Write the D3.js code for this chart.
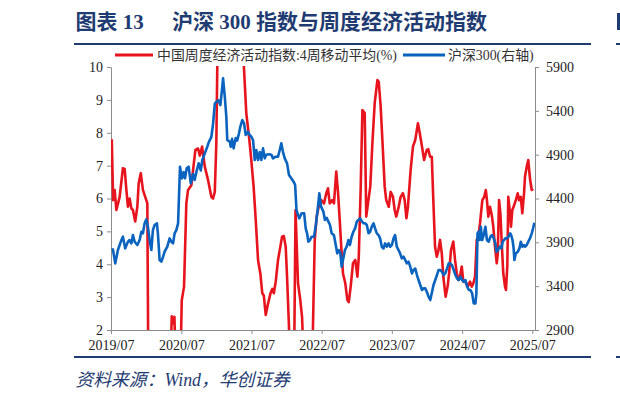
<!DOCTYPE html>
<html>
<head>
<meta charset="utf-8">
<script src="https://d3js.org/d3.v7.min.js"></script>
<style>
  body { margin: 0; background: #fff; }
  svg text { font-family: "Liberation Serif", "Noto Sans CJK SC", serif; }
</style>
</head>
<body>
<svg id="chart"></svg>
<script>
// weekly economic activity index, 4-week moving average (%), left axis
var activityIndex = [
  ["2019-07-05",7.8],["2019-07-12",5.95],["2019-07-20",6.26],["2019-07-29",5.65],["2019-08-15",6.05],
  ["2019-09-01",6.92],["2019-09-10",6.9],["2019-09-19",6.26],["2019-09-27",5.75],["2019-10-06",6.0],
  ["2019-10-15",5.7],["2019-10-23",5.65],["2019-11-04",5.3],["2019-11-15",5.75],["2019-11-22",6.46],
  ["2019-12-03",6.77],["2019-12-14",6.26],["2019-12-26",6.05],["2020-01-06",5.85],["2020-01-14",-2.0],
  ["2020-02-10",-6.5],["2020-03-10",-4.0],["2020-04-10",-1.0],["2020-05-05",0.8],["2020-05-12",2.42],
  ["2020-05-20",2.2],["2020-05-26",2.4],["2020-06-02",0.8],["2020-06-25",0.5],["2020-07-03",2.9],
  ["2020-07-15",3.32],["2020-07-27",5.86],["2020-08-05",6.26],["2020-08-22",6.4],["2020-09-12",7.48],
  ["2020-09-26",7.52],["2020-10-05",7.3],["2020-10-17",7.58],["2020-10-31",6.97],["2020-11-17",6.56],
  ["2020-12-04",6.05],["2020-12-13",6.0],["2020-12-22",6.2],["2020-12-30",7.68],["2021-01-05",10.5],
  ["2021-01-25",13.5],["2021-02-20",15.5],["2021-03-20",16.0],["2021-04-20",14.0],["2021-05-12",11.2],
  ["2021-06-04",8.59],["2021-06-18",7.88],["2021-06-30",7.17],["2021-07-12",6.36],["2021-07-23",5.35],
  ["2021-08-04",4.13],["2021-08-16",3.72],["2021-08-26",3.12],["2021-09-03",3.05],["2021-09-13",2.46],
  ["2021-09-25",2.8],["2021-10-07",3.1],["2021-10-17",3.25],["2021-10-25",3.12],["2021-11-04",3.47],
  ["2021-11-16",4.13],["2021-11-25",4.43],["2021-12-07",4.84],["2021-12-16",4.86],["2021-12-26",4.53],
  ["2022-01-02",3.62],["2022-01-12",2.1],["2022-01-20",-1.0],["2022-02-07",0.5],["2022-02-15",5.65],
  ["2022-02-28",3.43],["2022-03-12",2.9],["2022-03-21",2.4],["2022-03-30",1.0],["2022-04-20",-1.5],
  ["2022-05-13",1.0],["2022-05-26",4.74],["2022-06-05",5.45],["2022-06-21",5.9],["2022-06-29",5.95],
  ["2022-07-13",5.85],["2022-07-25",6.16],["2022-08-03",6.31],["2022-08-12",5.85],["2022-08-24",5.95],
  ["2022-09-03",5.85],["2022-09-15",6.82],["2022-09-24",6.2],["2022-10-03",5.35],["2022-10-11",4.53],
  ["2022-10-20",3.72],["2022-11-01",3.42],["2022-11-12",2.91],["2022-11-19",2.85],["2022-11-29",3.32],
  ["2022-12-11",4.03],["2022-12-23",4.13],["2023-01-03",3.62],["2023-01-10",4.2],["2023-01-20",6.3],
  ["2023-01-29",8.69],["2023-02-10",8.6],["2023-02-18",5.45],["2023-02-27",5.85],["2023-03-11",6.36],
  ["2023-03-22",7.68],["2023-04-03",8.9],["2023-04-17",9.6],["2023-04-24",9.55],["2023-05-04",8.8],
  ["2023-05-13",7.78],["2023-05-25",6.36],["2023-06-02",5.95],["2023-06-15",5.75],["2023-06-25",6.2],
  ["2023-07-07",6.05],["2023-07-16",5.65],["2023-07-24",5.45],["2023-08-06",5.75],["2023-08-16",6.05],
  ["2023-08-28",6.16],["2023-09-06",5.95],["2023-09-15",5.4],["2023-09-23",5.75],["2023-10-07",6.87],
  ["2023-10-19",7.58],["2023-10-31",7.78],["2023-11-14",8.29],["2023-11-23",8.0],["2023-12-05",7.58],
  ["2023-12-16",7.17],["2023-12-30",7.48],["2024-01-07",7.5],["2024-01-16",7.27],["2024-01-25",7.27],
  ["2024-02-02",5.95],["2024-02-11",4.53],["2024-02-20",4.23],["2024-02-28",4.4],["2024-03-08",4.74],
  ["2024-03-17",4.33],["2024-03-25",3.62],["2024-04-06",3.01],["2024-04-17",3.35],["2024-04-24",3.72],
  ["2024-05-04",4.43],["2024-05-16",4.69],["2024-05-25",4.13],["2024-06-03",3.72],["2024-06-11",3.52],
  ["2024-06-20",3.65],["2024-06-29",3.93],["2024-07-07",3.47],["2024-07-20",3.45],["2024-07-30",3.32],
  ["2024-08-11",3.47],["2024-08-20",3.32],["2024-08-28",3.42],["2024-09-06",3.62],["2024-09-15",4.74],
  ["2024-09-23",4.84],["2024-10-02",5.25],["2024-10-14",5.95],["2024-10-24",6.05],["2024-11-01",6.26],
  ["2024-11-07",5.95],["2024-11-14",5.45],["2024-11-23",5.75],["2024-12-02",5.5],["2024-12-10",5.14],
  ["2024-12-19",4.53],["2024-12-28",4.03],["2025-01-02",4.3],["2025-01-09",5.95],["2025-01-16",5.55],
  ["2025-01-23",4.64],["2025-01-31",3.72],["2025-02-09",3.32],["2025-02-14",3.22],["2025-02-21",3.95],
  ["2025-02-26",6.05],["2025-03-07",5.55],["2025-03-12",5.14],["2025-03-19",5.65],["2025-03-29",5.8],
  ["2025-04-06",5.95],["2025-04-16",6.16],["2025-04-23",5.95],["2025-05-02",6.05],["2025-05-10",5.55],
  ["2025-05-19",6.16],["2025-05-24",6.67],["2025-06-02",6.97],["2025-06-10",7.17],["2025-06-19",6.6],
  ["2025-06-28",6.26],["2025-07-05",6.3]
];

// CSI 300 index, right axis
var csi300 = [
  ["2019-07-05",3812],["2019-07-11",3820],["2019-07-23",3660],["2019-08-06",3812],["2019-08-24",3926],
  ["2019-09-01",3964],["2019-09-13",3831],["2019-09-27",3907],["2019-10-06",3926],["2019-10-15",3888],
  ["2019-10-23",3983],["2019-11-01",3907],["2019-11-15",3869],["2019-11-27",3926],["2019-12-06",4021],
  ["2019-12-14",4002],["2019-12-23",4117],["2020-01-01",4162],["2020-01-09",4080],["2020-01-18",3926],
  ["2020-01-27",3812],["2020-02-04",4040],["2020-02-13",4098],["2020-02-25",4117],["2020-03-01",4002],
  ["2020-03-10",3698],["2020-03-19",3680],["2020-03-28",3736],["2020-04-05",3793],["2020-04-19",3850],
  ["2020-05-01",3945],["2020-05-10",3907],["2020-05-19",3888],["2020-05-27",4002],["2020-06-05",4040],
  ["2020-06-14",4117],["2020-06-24",4763],["2020-07-04",4630],["2020-07-13",4700],["2020-07-20",4630],
  ["2020-07-29",4744],["2020-08-08",4763],["2020-08-19",4573],["2020-08-31",4680],["2020-09-08",4611],
  ["2020-09-17",4700],["2020-09-29",4801],["2020-10-10",4720],["2020-10-18",4839],["2020-10-31",4915],
  ["2020-11-13",4991],["2020-11-22",5048],["2020-12-04",5100],["2020-12-13",5250],["2020-12-22",5480],
  ["2020-12-30",5504],["2021-01-10",5520],["2021-01-20",5466],["2021-01-30",5675],["2021-02-03",5771],
  ["2021-02-12",5561],["2021-02-20",5333],["2021-02-25",5067],["2021-03-10",5050],["2021-03-15",4990],
  ["2021-03-22",5080],["2021-03-30",4972],["2021-04-10",5090],["2021-04-17",5060],["2021-04-27",5143],
  ["2021-05-04",5220],["2021-05-14",5295],["2021-05-23",5260],["2021-06-01",5124],["2021-06-13",5160],
  ["2021-06-22",5124],["2021-06-30",5105],["2021-07-09",5067],["2021-07-18",4839],["2021-07-26",4953],
  ["2021-08-04",4839],["2021-08-13",4930],["2021-08-21",4839],["2021-08-30",4972],["2021-09-08",4858],
  ["2021-09-16",4900],["2021-09-30",4905],["2021-10-12",4900],["2021-10-21",4858],["2021-11-04",4877],
  ["2021-11-16",4877],["2021-11-25",4953],["2021-12-03",5029],["2021-12-12",4930],["2021-12-21",4858],
  ["2022-01-02",4801],["2022-01-12",4668],["2022-01-24",4630],["2022-02-05",4592],["2022-02-13",4554],
  ["2022-02-20",4269],["2022-03-06",4174],["2022-03-19",4231],["2022-04-01",4231],["2022-04-09",4060],
  ["2022-04-16",4003],["2022-04-23",3907],["2022-05-01",3926],["2022-05-10",3964],["2022-05-22",3964],
  ["2022-06-01",4098],["2022-06-10",4269],["2022-06-19",4459],["2022-06-28",4307],["2022-07-10",4250],
  ["2022-07-18",4155],["2022-07-27",4180],["2022-08-05",4136],["2022-08-13",4100],["2022-08-22",4003],
  ["2022-09-03",3980],["2022-09-14",3850],["2022-09-20",3774],["2022-09-29",3810],["2022-10-06",3780],
  ["2022-10-13",3622],["2022-10-22",3720],["2022-10-30",3812],["2022-11-08",3850],["2022-11-17",3926],
  ["2022-11-25",3869],["2022-12-04",3964],["2022-12-13",4021],["2022-12-22",4060],["2022-12-31",4136],
  ["2023-01-08",4155],["2023-01-17",4174],["2023-01-26",4140],["2023-02-03",4117],["2023-02-12",4117],
  ["2023-02-21",4098],["2023-03-02",4003],["2023-03-10",4021],["2023-03-19",4080],["2023-03-28",4117],
  ["2023-04-05",4060],["2023-04-14",4003],["2023-04-23",3983],["2023-05-01",3945],["2023-05-10",3850],
  ["2023-05-19",3830],["2023-05-27",3888],["2023-06-05",3850],["2023-06-14",3888],["2023-06-22",3850],
  ["2023-07-01",3869],["2023-07-10",3945],["2023-07-18",3983],["2023-07-27",3850],["2023-08-05",3812],
  ["2023-08-13",3774],["2023-08-22",3717],["2023-08-31",3736],["2023-09-09",3698],["2023-09-17",3660],
  ["2023-09-26",3680],["2023-10-05",3622],["2023-10-14",3546],["2023-10-22",3584],["2023-10-31",3600],
  ["2023-11-09",3527],["2023-11-17",3470],["2023-11-26",3413],["2023-12-05",3356],["2023-12-13",3375],
  ["2023-12-22",3375],["2023-12-31",3330],["2024-01-08",3280],["2024-01-17",3242],["2024-01-26",3330],
  ["2024-02-03",3413],["2024-02-12",3470],["2024-02-21",3527],["2024-02-29",3584],["2024-03-09",3584],
  ["2024-03-18",3565],["2024-03-26",3527],["2024-04-04",3546],["2024-04-13",3600],["2024-04-22",3660],
  ["2024-04-30",3660],["2024-05-09",3640],["2024-05-18",3584],["2024-05-27",3527],["2024-06-04",3490],
  ["2024-06-13",3470],["2024-06-22",3508],["2024-07-01",3470],["2024-07-09",3451],["2024-07-18",3470],
  ["2024-07-27",3394],["2024-08-05",3356],["2024-08-13",3356],["2024-08-22",3318],["2024-08-30",3204],
  ["2024-09-08",3204],["2024-09-13",3318],["2024-09-19",4003],["2024-09-25",4022],["2024-09-30",3926],
  ["2024-10-06",4078],["2024-10-13",3926],["2024-10-21",3983],["2024-10-30",4078],["2024-11-07",3926],
  ["2024-11-16",3907],["2024-11-25",3964],["2024-12-04",3983],["2024-12-12",3945],["2024-12-21",3888],
  ["2024-12-26",3793],["2025-01-04",3812],["2025-01-12",3850],["2025-01-21",3831],["2025-01-28",3907],
  ["2025-02-04",3926],["2025-02-10",3945],["2025-02-19",3945],["2025-02-27",3964],["2025-03-08",4003],
  ["2025-03-13",3983],["2025-03-20",3926],["2025-03-25",3850],["2025-03-30",3698],["2025-04-06",3774],
  ["2025-04-17",3793],["2025-04-25",3831],["2025-05-02",3907],["2025-05-10",3850],["2025-05-19",3869],
  ["2025-05-24",3850],["2025-06-02",3869],["2025-06-10",3907],["2025-06-19",3945],["2025-06-28",4003],
  ["2025-07-05",4060],["2025-07-12",4124]
];

var leftTicks = [2, 3, 4, 5, 6, 7, 8, 9, 10];
var rightTicks = [2900, 3400, 3900, 4400, 4900, 5400, 5900];
var xTickDates = ["2019-07-01", "2020-07-01", "2021-07-01", "2022-07-01", "2023-07-01", "2024-07-01", "2025-07-01"];

var width = 620, height = 398;
var navy = "#1f3c72";
var red = "#e8141d", blue = "#0a63be";
var axisGrey = "#8c8c8c";

var parse = d3.timeParse("%Y-%m-%d");
var fmt = d3.timeFormat("%Y/%m");

var svg = d3.select("#chart").attr("width", width).attr("height", height);

var x = d3.scaleTime()
  .domain([parse("2019-07-01"), parse("2025-07-15")])
  .range([111, 535]);
var yL = d3.scaleLinear().domain([2, 10]).range([330, 67]);
var yR = d3.scaleLinear().domain([2900, 5900]).range([330, 67]);

// title block
svg.append("text").attr("x", 75.5).attr("y", 29)
  .attr("font-size", 21).attr("font-weight", "bold").attr("fill", navy)
  .text("图表 13");
svg.append("text").attr("x", 172).attr("y", 29)
  .attr("font-size", 21).attr("font-weight", "bold").attr("fill", navy)
  .text("沪深 300 指数与周度经济活动指数");
svg.append("line").attr("x1", 74).attr("x2", 591).attr("y1", 44).attr("y2", 44)
  .attr("stroke", navy).attr("stroke-width", 2);

// sliver of the neighbouring column at the page edge
svg.append("rect").attr("x", 617).attr("y", 13).attr("width", 3).attr("height", 17).attr("fill", navy);
svg.append("line").attr("x1", 616).attr("x2", 620).attr("y1", 44).attr("y2", 44)
  .attr("stroke", navy).attr("stroke-width", 2);
svg.append("line").attr("x1", 616).attr("x2", 620).attr("y1", 357).attr("y2", 357)
  .attr("stroke", navy).attr("stroke-width", 2);

// legend
var legend = svg.append("g").attr("font-size", 13.9).attr("fill", "#333");
legend.append("line").attr("x1", 115).attr("x2", 153).attr("y1", 55).attr("y2", 55)
  .attr("stroke", red).attr("stroke-width", 3);
legend.append("text").attr("x", 157).attr("y", 60)
  .text("中国周度经济活动指数:4周移动平均(%)");
legend.append("line").attr("x1", 403).attr("x2", 445).attr("y1", 55).attr("y2", 55)
  .attr("stroke", blue).attr("stroke-width", 3);
legend.append("text").attr("x", 448).attr("y", 60)
  .text("沪深300(右轴)");

// axes
function styleAxis(g) {
  g.selectAll("path, line").attr("stroke", axisGrey);
  g.selectAll("text").attr("fill", "#222").attr("font-size", 14)
    .attr("font-family", "'Liberation Serif', serif");
}

svg.append("g").attr("transform", "translate(111,0)")
  .call(d3.axisLeft(yL).tickValues(leftTicks).tickSize(4).tickSizeOuter(0).tickPadding(4))
  .call(styleAxis);

svg.append("g").attr("transform", "translate(535,0)")
  .call(d3.axisRight(yR).tickValues(rightTicks).tickFormat(d3.format("d"))
    .tickSize(4).tickSizeOuter(0).tickPadding(7))
  .call(styleAxis);

svg.append("g").attr("transform", "translate(0,330)")
  .call(d3.axisBottom(x).tickValues(xTickDates.map(parse)).tickFormat(fmt)
    .tickSize(4).tickSizeOuter(0).tickPadding(6))
  .call(styleAxis);

// lines
svg.append("clipPath").attr("id", "plot")
  .append("rect").attr("x", 111).attr("y", 66).attr("width", 424).attr("height", 264);

var redLine = d3.line()
  .x(function (d) { return x(parse(d[0])); })
  .y(function (d) { return yL(d[1]); });
var blueLine = d3.line()
  .x(function (d) { return x(parse(d[0])); })
  .y(function (d) { return yR(d[1]); });

var lines = svg.append("g").attr("clip-path", "url(#plot)")
  .attr("fill", "none").attr("stroke-width", 2.6).attr("stroke-linejoin", "round");
lines.append("path").datum(activityIndex).attr("d", redLine).attr("stroke", red);
lines.append("path").datum(csi300).attr("d", blueLine).attr("stroke", blue);

// bottom rule and source
svg.append("line").attr("x1", 74).attr("x2", 591).attr("y1", 357).attr("y2", 357)
  .attr("stroke", navy).attr("stroke-width", 2);
svg.append("text").attr("x", 75.5).attr("y", 386)
  .attr("font-size", 17.8).attr("font-style", "italic").attr("fill", navy)
  .text("资料来源：Wind，华创证券");
</script>
</body>
</html>
